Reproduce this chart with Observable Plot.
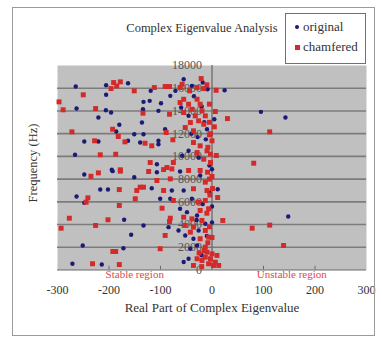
<!DOCTYPE html>
<html>
<head>
<meta charset="utf-8">
<script src="https://cdn.jsdelivr.net/npm/d3@7"></script>
<script src="https://cdn.jsdelivr.net/npm/@observablehq/plot@0.6"></script>
<style>
  html, body { margin: 0; padding: 0; background: #ffffff; }
  #wrap { position: relative; width: 382px; height: 337px; overflow: hidden; font-family: "Liberation Serif", "Times New Roman", serif; color: #333; }
  .abs { position: absolute; white-space: nowrap; }
</style>
</head>
<body>
<div id="wrap"></div>
<script>
// ---------- data ----------
const title = "Complex Eigenvalue Analysis";
const xTitle = "Real Part of Complex Eigenvalue";
const yTitle = "Frequency (Hz)";
const seriesNames = ["original", "chamfered"];
const xTicks = [-300, -200, -100, 0, 100, 200, 300];
const yTicks = [0, 2000, 4000, 6000, 8000, 10000, 12000, 14000, 16000, 18000];
const regionText = ["Stable region", "Unstable region"];
const regionX = [-150, 155];

// original (blue)
const origX = [24.5, 95, 142.6, 4.5, 11, 148,
  -264.6, -205.6, -163, -205.6, -263, -206, -196, -220.6, -180, -186, -163, -248, -220.6, -266, -194.6,
  -248, -193, -151, -217, -202, -263, -248, -170.6, -157, -251, -172, -271, -214,
  -119, -71, -55, -8.6, -39, -81, -133, -121, -99, -134, -104, -45.5, -9.7, -136, -91, -151, -133, -139.5, -104, -104, -45.5, -26, -58, -107,
  -107, -62, -23, -117, -78, -55, -100.6, -81, -39, -62, -48.6, -29, -13, -133, -84.4, -65, -26, -52, -36, -42, -29, -45.5,
  0, 0, 0, -5, -12, -20, -15, -5, -18, -10, -20, -55, -30, -40, -28, -60, -35, -18];
const origY = [15820, 13920, 13420, 13270, 7110, 4710,
  16150, 16260, 16440, 15420, 14210, 14060, 13860, 13420, 12780, 12190, 11370, 11310, 11310, 10140, 8820,
  8400, 8700, 8170, 7080, 7080, 6470, 5910, 4420, 3100, 2160, 1920, 550, 480,
  15770, 15770, 16790, 15910, 16210, 15330, 14800, 14890, 14680, 14150, 14010, 13570, 12390, 12980, 12390, 11950, 11950, 11220, 11370, 11070, 10490, 9900, 10050, 9310,
  8610, 8670, 8320, 7200, 7000, 7000, 6270, 6270, 6270, 5390, 5090, 4800, 4070, 3920, 3770, 3480, 3480, 3040, 2750, 1870, 2160, 990,
  8870, 5590, 4180, 9200, 11500, 14400, 13000, 6800, 5800, 3000, 1300, 700, 4400, 12000, 11700, 14300, 15300, 16500];

// chamfered (red)
const chamX = [8, 6.4, 30, 4.5, 112, 8.4, 81, 1, 11, 21, 112, 78, 139,
  -191, -178, -185, -196, -151, -250, -297, -289, -226, -193, -272, -182, -169, -228, -217, -187, -178,
  -235, -220.6, -178, -180, -241, -244.5, -180, -277, -202, -293, -226, -192.6, -187, -232, -180,
  -112, -91, -82.5, -62, -58, -21, -29, -16, -43.6, -134, -82.5, -62, -55, -45.5, -29, -23, -39, -19.5, -55, -32.5, -13, -42, -26, -52, -16, -36, -89, -130, -117, -76, -36, -23, -9.7, -29, -16, -3, -120, -75, -87.5,
  -123, -94, -78, -45.5, -23, -8.6, -107, -81, -13, -9.7, -146, -139.5, -133, -94, -36, -149, -75, -26, -13, -97, -23, -6.6, -81, -82.5, -55, -39, -19.5, -52, -36, -42, -13, -91, -23, -6.6, -100.6, -13, -9.7, 0, -13, -3, -19.5, -6.6, 6.4, 3, -29, -36, 9.7, 13,
  0, 0, 0, -5, -8, -3, -5, -4, -10, -5, -8, -15, -20, -25, -10, -5, -5, -3];
const chamY = [15820, 13950, 13330, 12600, 12160, 10080, 9400, 7170, 6380, 4360, 3950, 3680, 2160,
  16500, 16560, 16200, 15970, 15770, 15420, 14800, 14100, 14210, 12390, 12160, 11750, 11280, 11370, 10140, 10190, 8820,
  8250, 8550, 8700, 7080, 6350, 5970, 5680, 4560, 4420, 3680, 3920, 1630, 1630, 550, 480,
  16060, 16150, 16150, 16060, 16350, 16850, 16060, 15970, 15770, 13800, 13710, 14740, 15030, 14590, 15030, 14590, 14150, 14010, 13860, 13570, 13570, 12980, 13130, 12540, 12830, 12250, 12100, 11160, 10930, 11460, 11220, 10930, 10490, 10340, 9750, 9460, 9460, 9460, 9020,
  8670, 8840, 8900, 8760, 8760, 8610, 7880, 8020, 7730, 7000, 7000, 7290, 7290, 7000, 7150, 6270, 6120, 5970, 6120, 5440, 5240, 5390, 4560, 4270, 4650, 4500, 4360, 3920, 3770, 3330, 3480, 3040, 2750, 2890, 1870, 2010, 1570, 1420, 1130, 990, 840, 550, 690, 400, 990, 400, 1280, 400,
  11370, 8230, 2860, 11900, 10800, 10200, 8000, 6600, 5000, 3800, 2400, 1700, 300, 1500, 16300, 14600, 13000, 12000];

// ---------- tables ----------
const original = origX.map((x, i) => ({x, y: origY[i]}));
const chamfered = chamX.map((x, i) => ({x, y: chamY[i]}));
const regions = regionText.map((label, i) => ({label, x: regionX[i]}));
const gridTicks = yTicks.filter(d => d > 0 && d < 18000);

const BLUE = "#1b1a76";
const RED = "#d42a2a";
const FONT = '"Liberation Serif", "Times New Roman", serif';

const chart = Plot.plot({
  width: 382,
  height: 337,
  marginLeft: 57,
  marginRight: 16,
  marginTop: 65,
  marginBottom: 67.5,
  style: {background: "transparent", fontFamily: FONT, fontSize: "12px", color: "#333"},
  x: {domain: [-300, 300], ticks: xTicks, tickFormat: d => String(d), tickSize: 0, tickPadding: 15, label: null},
  y: {domain: [0, 18000], axis: null},
  marks: [
    Plot.frame({fill: "#c0c0c0", stroke: null}),
    Plot.ruleY(gridTicks, {stroke: "#7c7c7c", strokeWidth: 1.6}),
    Plot.ruleY([0], {stroke: "#6a6a6a", strokeWidth: 1}),
    Plot.ruleX(xTicks.filter(d => d !== 0 && Math.abs(d) < 300), {y1: 0, y2: 330, stroke: "#6a6a6a"}),
    Plot.ruleX([0], {stroke: "#6a6a6a", strokeWidth: 1.3}),
    Plot.text(yTicks, {x: () => 0, y: d => d, text: d => String(d), textAnchor: "end", dx: -10, fill: "#555", fontSize: 12}),
    Plot.dot(original, {x: "x", y: "y", r: 2.2, fill: BLUE, stroke: null, symbol: "circle"}),
    Plot.dot(chamfered, {x: "x", y: "y", r: 2.8, fill: RED, stroke: null, symbol: "square"}),
    Plot.text(regions, {x: "x", text: "label", frameAnchor: "bottom", dy: 8, fill: "#e04848", fontSize: 11})
  ]
});

const wrap = document.getElementById("wrap");
chart.style.position = "absolute";
chart.style.left = "0px";
chart.style.top = "0px";
wrap.appendChild(chart);

function addDiv(html, css) {
  const d = document.createElement("div");
  d.className = "abs";
  d.innerHTML = html;
  Object.assign(d.style, css);
  wrap.appendChild(d);
  return d;
}

// outer border
addDiv("", {left: "12px", top: "7px", width: "361px", height: "327px", border: "1px solid #9a9a9a", pointerEvents: "none"});
// title
addDiv(title, {left: "202px", top: "28px", transform: "translate(-50%,-50%)", fontSize: "12.5px", color: "#333"});
// axis titles
addDiv(xTitle, {left: "212px", top: "308px", transform: "translate(-50%,-50%)", fontSize: "13px", color: "#333"});
addDiv(yTitle, {left: "33px", top: "163px", transform: "translate(-50%,-50%) rotate(-90deg)", fontSize: "12.5px", color: "#333"});
// legend
const leg = addDiv("", {left: "285px", top: "13px", width: "79px", height: "49px", border: "1px solid #707070", background: "#fff"});
const items = [
  {name: seriesNames[0], color: BLUE, shape: "50%", size: 4, cy: 13},
  {name: seriesNames[1], color: RED, shape: "0", size: 5, cy: 33}
];
items.forEach(it => {
  const m = document.createElement("span");
  Object.assign(m.style, {position: "absolute", left: (11 - it.size / 2) + "px", top: (it.cy - it.size / 2) + "px",
    width: it.size + "px", height: it.size + "px", background: it.color, borderRadius: it.shape});
  leg.appendChild(m);
  const t = document.createElement("span");
  t.textContent = it.name;
  Object.assign(t.style, {position: "absolute", left: "17px", top: (it.cy - 9) + "px", fontSize: "13px", lineHeight: "18px", color: "#333"});
  leg.appendChild(t);
});
</script>
</body>
</html>
